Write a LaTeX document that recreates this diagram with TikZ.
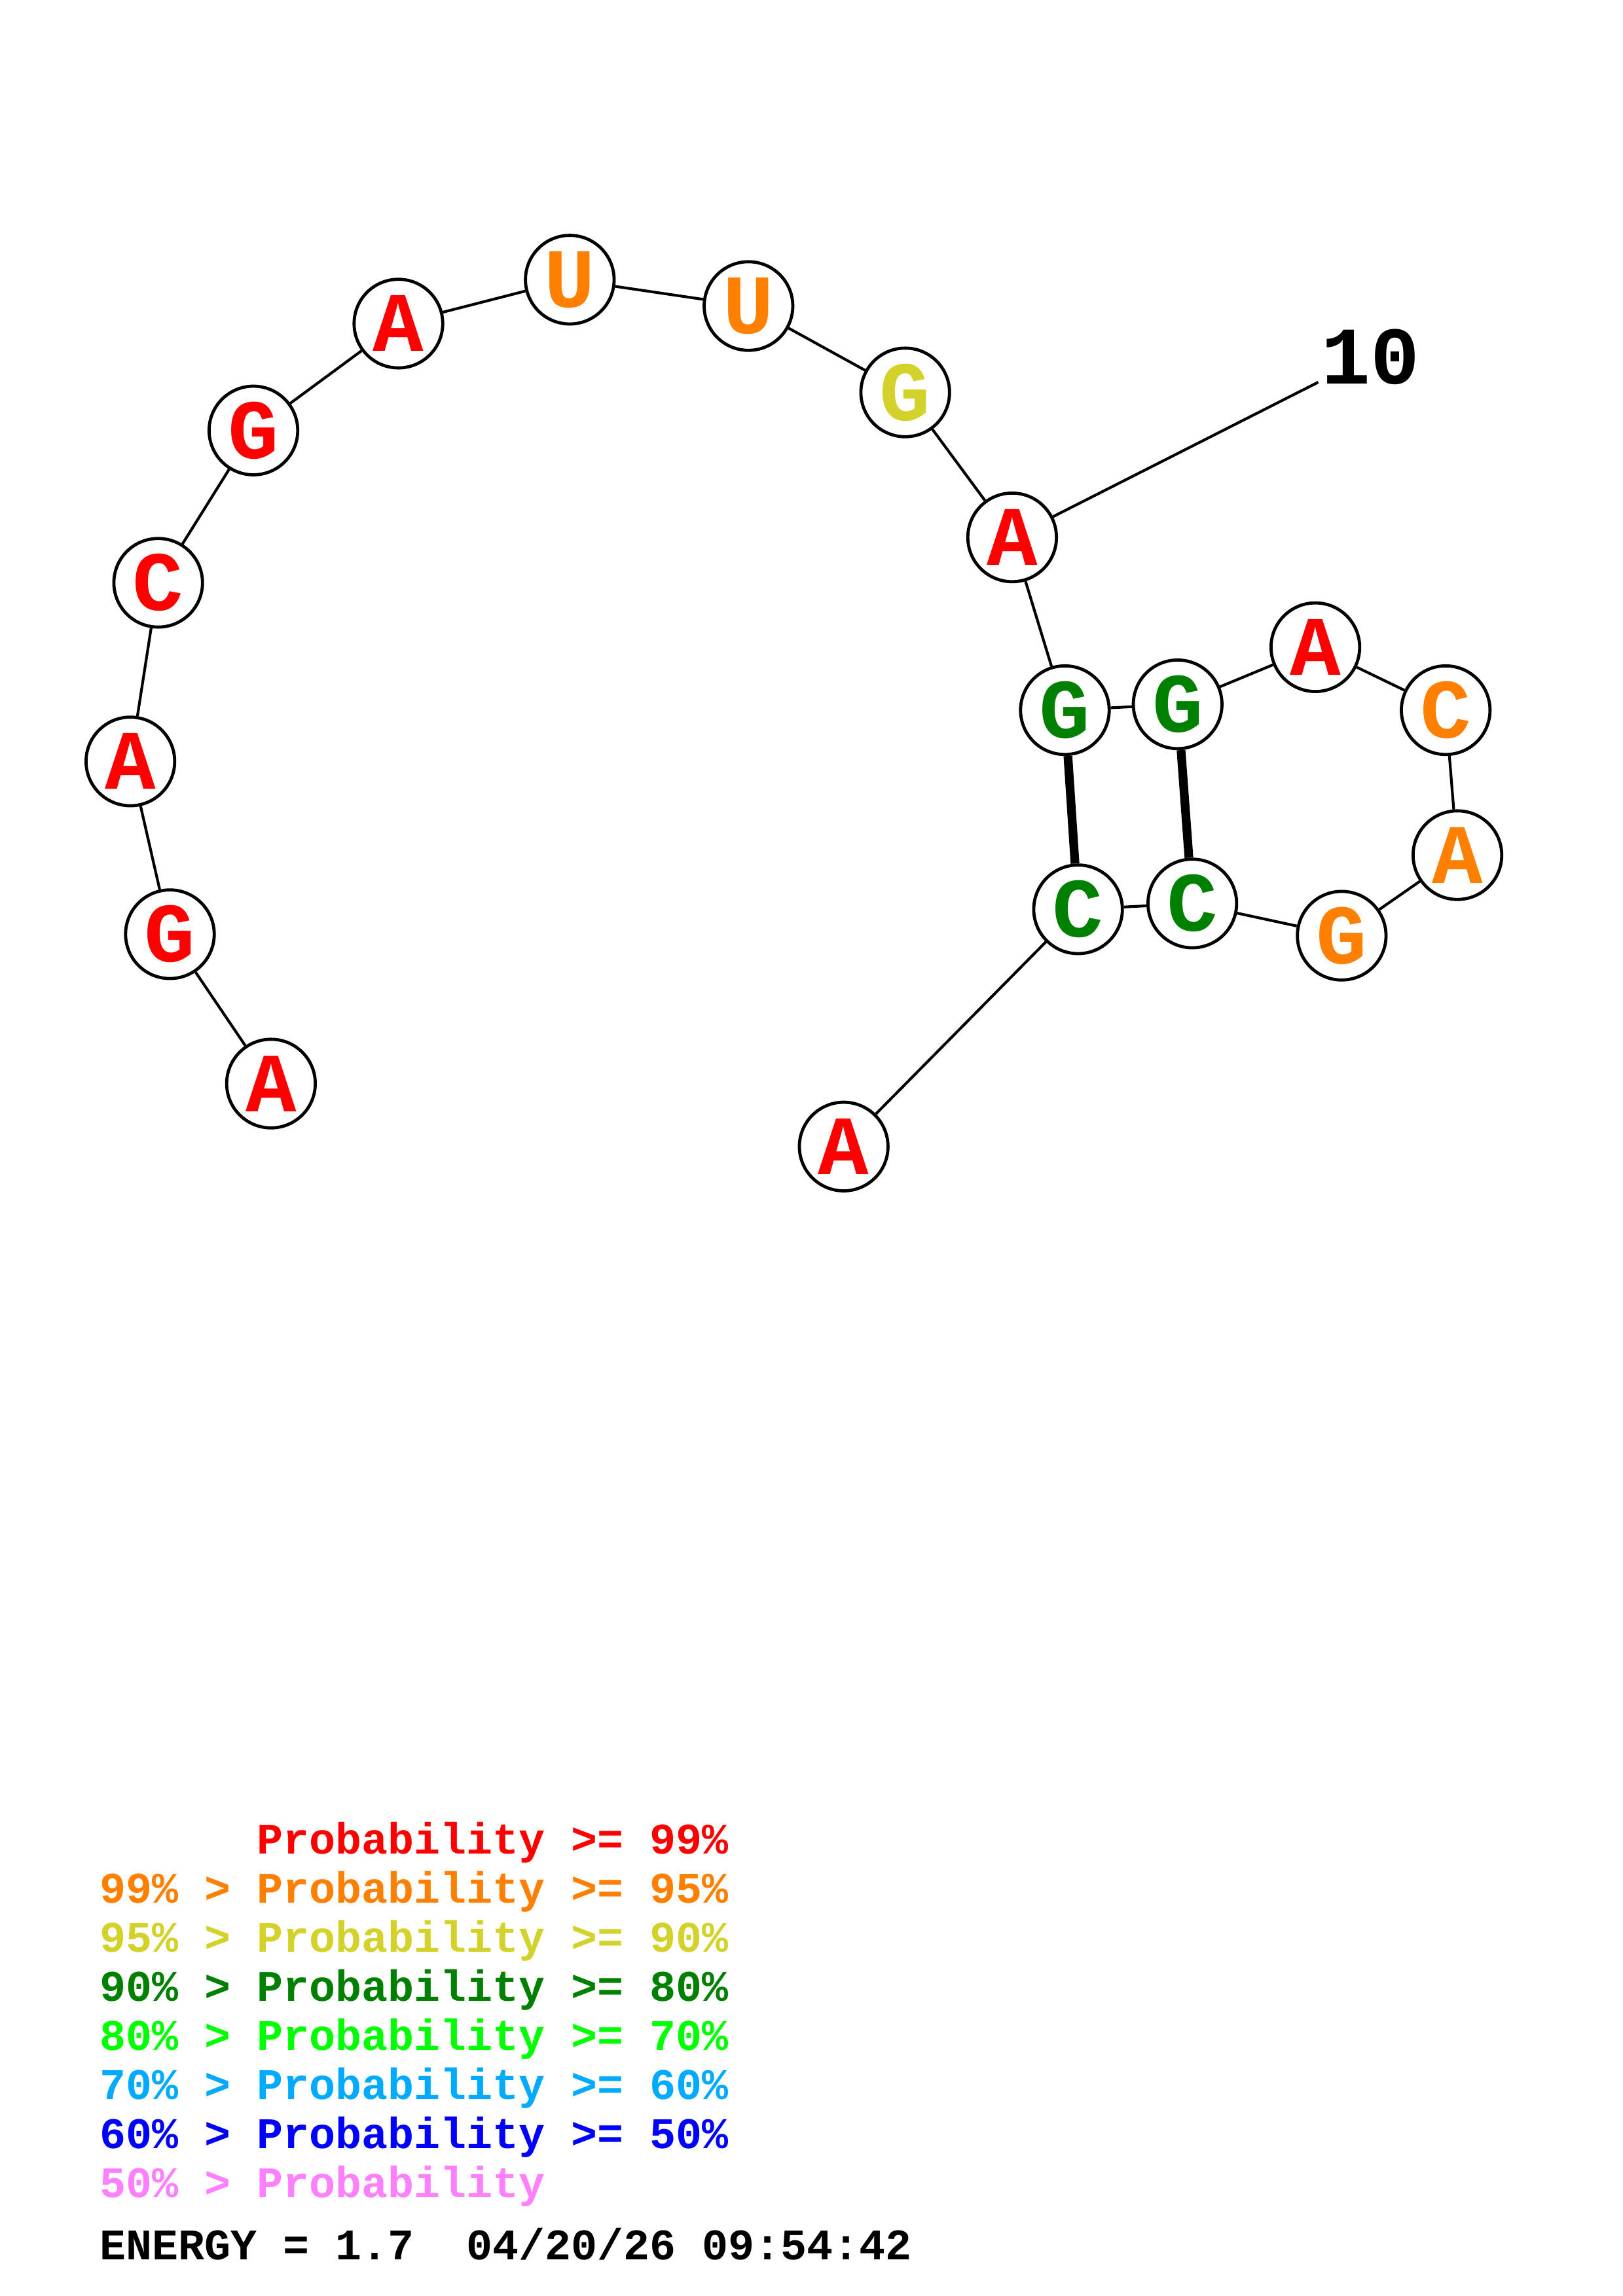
\documentclass[tikz,border=0pt]{standalone}
\usepackage{fontspec}
\usepackage{xcolor}
\usetikzlibrary{positioning}
\newfontfamily\basefont{Liberation Mono}
\definecolor{pr99}{RGB}{255,0,0}
\definecolor{pr95}{RGB}{255,128,0}
\definecolor{pr90}{RGB}{210,210,42}
\definecolor{pr80}{RGB}{0,128,0}
\definecolor{pr70}{RGB}{0,255,0}
\definecolor{pr60}{RGB}{0,170,255}
\definecolor{pr50}{RGB}{0,0,255}
\definecolor{prlow}{RGB}{255,128,255}

\begin{document}
\begin{tikzpicture}[x=0.537pt, y=-0.537pt,
  nt/.style={draw, circle, fill=white, line width=1.15pt, minimum size=32.5pt, inner sep=0pt,
    font=\basefont\bfseries\fontsize{31}{31}\selectfont},
  bb/.style={line width=1pt},
  pair/.style={line width=3.2pt},
  leg/.style={anchor=base west, inner sep=0pt, font=\basefont\bfseries\fontsize{16}{16}\selectfont},
]
  \useasboundingbox (0,0) rectangle (1108,1568);
  % --- bases ---
  \node[nt, text=pr99] (n1) at (185,740) {A};
  \node[nt, text=pr99] (n2) at (116,638) {G};
  \node[nt, text=pr99] (n3) at (89,520) {A};
  \node[nt, text=pr99] (n4) at (108,398) {C};
  \node[nt, text=pr99] (n5) at (173,294) {G};
  \node[nt, text=pr99] (n6) at (272,221) {A};
  \node[nt, text=pr95] (n7) at (389,191) {U};
  \node[nt, text=pr95] (n8) at (511,209) {U};
  \node[nt, text=pr90] (n9) at (618,268) {G};
  \node[nt, text=pr99] (n10) at (691,367) {A};
  \node[nt, text=pr80] (n11) at (727,485) {G};
  \node[nt, text=pr80] (n12) at (804,481) {G};
  \node[nt, text=pr99] (n13) at (898,442) {A};
  \node[nt, text=pr95] (n14) at (987,485) {C};
  \node[nt, text=pr95] (n15) at (995,584) {A};
  \node[nt, text=pr95] (n16) at (916,639) {G};
  \node[nt, text=pr80] (n17) at (814,617) {C};
  \node[nt, text=pr80] (n18) at (736,621) {C};
  \node[nt, text=pr99] (n19) at (576,783) {A};
  % --- backbone ---
  \draw[bb] (n1)--(n2); \draw[bb] (n2)--(n3); \draw[bb] (n3)--(n4);
  \draw[bb] (n4)--(n5); \draw[bb] (n5)--(n6); \draw[bb] (n6)--(n7);
  \draw[bb] (n7)--(n8); \draw[bb] (n8)--(n9); \draw[bb] (n9)--(n10);
  \draw[bb] (n10)--(n11); \draw[bb] (n11)--(n12); \draw[bb] (n12)--(n13);
  \draw[bb] (n13)--(n14); \draw[bb] (n14)--(n15); \draw[bb] (n15)--(n16);
  \draw[bb] (n16)--(n17); \draw[bb] (n17)--(n18); \draw[bb] (n18)--(n19);
  % --- pairs ---
  \draw[pair] (n11)--(n18); \draw[pair] (n12)--(n17);
  % --- numbering ---
  \coordinate (t10) at (900,261);
  \draw[bb] (n10)--(t10);
  \node[anchor=base west, inner sep=0pt, font=\basefont\bfseries\fontsize{30}{30}\selectfont] (l10) at (902,262) {10};
  % --- legend ---
  \node[leg, text=pr99] (k1) at (68,1266) {\hphantom{99\% > }Probability >= 99\%};
  \node[leg, text=pr95] (k2) at (68,1299.5) {99\% > Probability >= 95\%};
  \node[leg, text=pr90] (k3) at (68,1333) {95\% > Probability >= 90\%};
  \node[leg, text=pr80] (k4) at (68,1366.5) {90\% > Probability >= 80\%};
  \node[leg, text=pr70] (k5) at (68,1400) {80\% > Probability >= 70\%};
  \node[leg, text=pr60] (k6) at (68,1433.5) {70\% > Probability >= 60\%};
  \node[leg, text=pr50] (k7) at (68,1467) {60\% > Probability >= 50\%};
  \node[leg, text=prlow] (k8) at (68,1500.5) {50\% > Probability};
  \node[leg] (energy) at (68,1543) {ENERGY = 1.7\ \ 04/20/26 09:54:42};
\end{tikzpicture}
\end{document}
